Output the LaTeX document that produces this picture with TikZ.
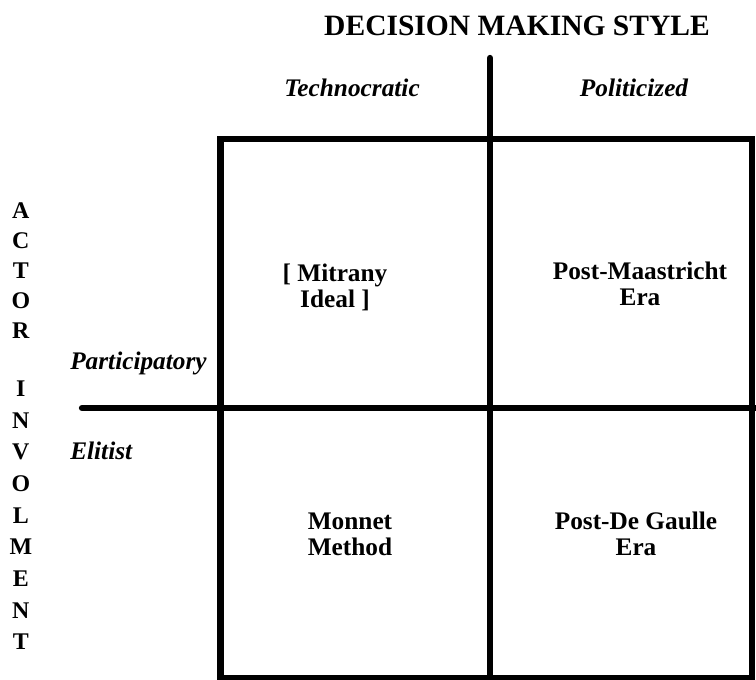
\documentclass[tikz,border=0pt]{standalone}
\usepackage{fontspec}
\setmainfont{Liberation Serif}
\usepackage{tikz}
\usetikzlibrary{calc}
\tikzset{
	axis/.style={line width=4.5pt, line cap=round},
	frame/.style={line width=4.5pt},
	cell/.style={font=\fontsize{18}{18.5}\selectfont\bfseries, align=center},
	kind/.style={font=\fontsize{18}{20}\selectfont\bfseries\itshape, inner sep=0pt},
	letter/.style={font=\fontsize{17}{17}\selectfont\bfseries, inner sep=0pt}
}

\begin{document}
\begin{tikzpicture}

\useasboundingbox (0,0) rectangle (18.9,17);

\draw[frame] (5.51,0.05) rectangle (18.8,13.525);

\coordinate (top) at (12.25,15.55);
\coordinate (bottom) at (12.25,0.05);
\coordinate (left) at (2.05,6.8);
\coordinate (right) at (18.9,6.8);
\draw[axis] (top) -- (bottom);
\draw[axis] (left) -- (right);

\node[font=\fontsize{21}{21}\selectfont\bfseries] (title) at (12.925,16.35) {DECISION MAKING STYLE};
\node[kind] (techno) at (8.8,14.8) {Technocratic};
\node[kind] (polit) at (15.85,14.8) {Politicized};
\node[kind, anchor=base west] (partic) at (1.75,7.75) {Participatory};
\node[kind, anchor=base west] (elit) at (1.75,5.5) {Elitist};

\node[cell] (mitrany) at (8.375,9.825) {[ Mitrany\\Ideal ]};
\node[cell] (maastricht) at (16.0,9.9) {Post-Maastricht\\Era};
\node[cell] (monnet) at (8.75,3.65) {Monnet\\Method};
\node[cell] (gaulle) at (15.9,3.65) {Post-De Gaulle\\Era};

\foreach \c [count=\i] in {A,C,T,O,R}
\node[letter] (actor\i) at (0.52,{(469-30*(\i-1))/40}) {\c};

\foreach \c [count=\i] in {I,N,V,O,L,M,E,N,T}
\node[letter] (invol\i) at (0.52,{(291-31.6*(\i-1))/40}) {\c};

\end{tikzpicture}
\end{document}
